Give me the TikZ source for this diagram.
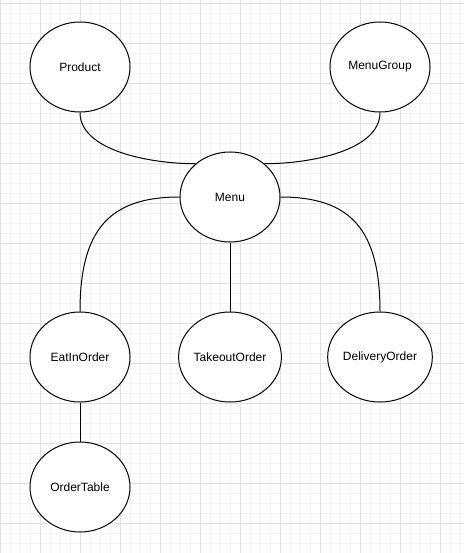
\documentclass[tikz,border=0pt]{standalone}
\usepackage{fontspec}
\setmainfont{Liberation Sans}
\usepackage{xcolor}
\usetikzlibrary{shapes.geometric}

\definecolor{gridminor}{HTML}{F3F3F3}
\definecolor{gridmajor}{HTML}{E0E0E0}

\begin{document}
\begin{tikzpicture}[
    x=1pt, y=-1pt,
    every node/.style={font=\fontsize{12}{14}\selectfont},
    entity/.style={ellipse, draw, line width=1pt, fill=white,
        minimum width=100pt, minimum height=90pt, inner sep=0pt},
    link/.style={line width=1pt}
]

% Grid background
\useasboundingbox (0,0) rectangle (464,553);
\fill[white] (0,0) rectangle (464,553);
\foreach \x in {0,10,...,460} \draw[gridminor, line width=0.7pt] (\x,0) -- (\x,553);
\foreach \y in {3,13,...,553} \draw[gridminor, line width=0.7pt] (0,\y) -- (464,\y);
\foreach \x in {0,40,...,460} \draw[gridmajor, line width=0.8pt] (\x,0) -- (\x,553);
\foreach \y in {3,43,...,553} \draw[gridmajor, line width=0.8pt] (0,\y) -- (464,\y);

% Entities
\node[entity] (product) at (80,67) {Product};
\node[entity] (menugroup) at (380,67) {MenuGroup};
\node[entity] (menu) at (230,197) {Menu};
\node[entity] (eatin) at (80,357) {EatInOrder};
\node[entity] (takeout) at (230,357) {TakeoutOrder};
\node[entity] (delivery) at (380,357) {DeliveryOrder};
\node[entity] (ordertable) at (80,487) {OrderTable};

% Relations
\draw[link] (product.south) .. controls +(0,38) and +(-46,0) .. (menu.136);
\draw[link] (menugroup.south) .. controls +(0,38) and +(46,0) .. (menu.44);
\draw[link] (menu.west) .. controls +(-70,0) and +(0,-82) .. (eatin.north);
\draw[link] (menu.south) -- (takeout.north);
\draw[link] (menu.east) .. controls +(70,0) and +(0,-82) .. (delivery.north);
\draw[link] (eatin.south) -- (ordertable.north);

\end{tikzpicture}
\end{document}
